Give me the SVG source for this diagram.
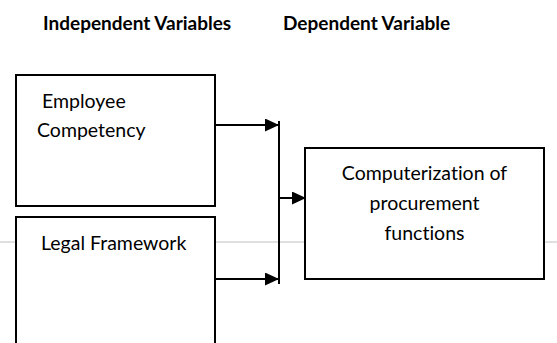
<svg xmlns="http://www.w3.org/2000/svg" width="557" height="343" viewBox="0 0 557 343">
<style>
.bg{fill:#ffffff}
.box{fill:#ffffff;stroke:#000000;stroke-width:2}
.conn{fill:none;stroke:#000000;stroke-width:2}
.t{font-family:Lato,"Open Sans","Liberation Sans",sans-serif;font-size:19.5px;fill:#000000;font-variant-ligatures:none}
.h{font-family:Lato,"Open Sans","Liberation Sans",sans-serif;font-size:19px;font-weight:bold;fill:#000000;font-variant-ligatures:none}
</style>
<defs>
<marker id="arr" viewBox="0 0 14 13" refX="14" refY="6.5" markerWidth="14" markerHeight="13" markerUnits="userSpaceOnUse" orient="auto">
<path d="M0,0 L14,6.5 L0,13 Z" fill="#000000"/>
</marker>
</defs>
<rect class="bg" x="0" y="0" width="557" height="343"/>
<line x1="0" y1="242" x2="557" y2="242" stroke="#d4d4d4" stroke-width="1.5"/>
<g id="headers">
<text class="h" x="43" y="30">Independent Variables</text>
<text class="h" x="283" y="30">Dependent Variable</text>
</g>
<g id="node-employee">
<rect class="box" x="16" y="75" width="199" height="131"/>
<text class="t" x="42" y="108">Employee</text>
<text class="t" x="37" y="137">Competency</text>
</g>
<g id="node-legal">
<rect class="box" x="16" y="217" width="199" height="140"/>
<text class="t" x="41" y="250">Legal Framework</text>
</g>
<g id="node-computerization">
<rect class="box" x="305" y="148" width="239" height="131"/>
<text class="t" x="424.5" y="180" text-anchor="middle">Computerization of</text>
<text class="t" x="424.5" y="210" text-anchor="middle">procurement</text>
<text class="t" x="424.5" y="240" text-anchor="middle">functions</text>
</g>
<g id="connectors">
<line class="conn" x1="215" y1="125" x2="279" y2="125" marker-end="url(#arr)"/>
<line class="conn" x1="215" y1="279" x2="279" y2="279" marker-end="url(#arr)"/>
<line class="conn" x1="279" y1="121" x2="279" y2="284"/>
<line class="conn" x1="279" y1="198" x2="306" y2="198" marker-end="url(#arr)"/>
</g>
</svg>
